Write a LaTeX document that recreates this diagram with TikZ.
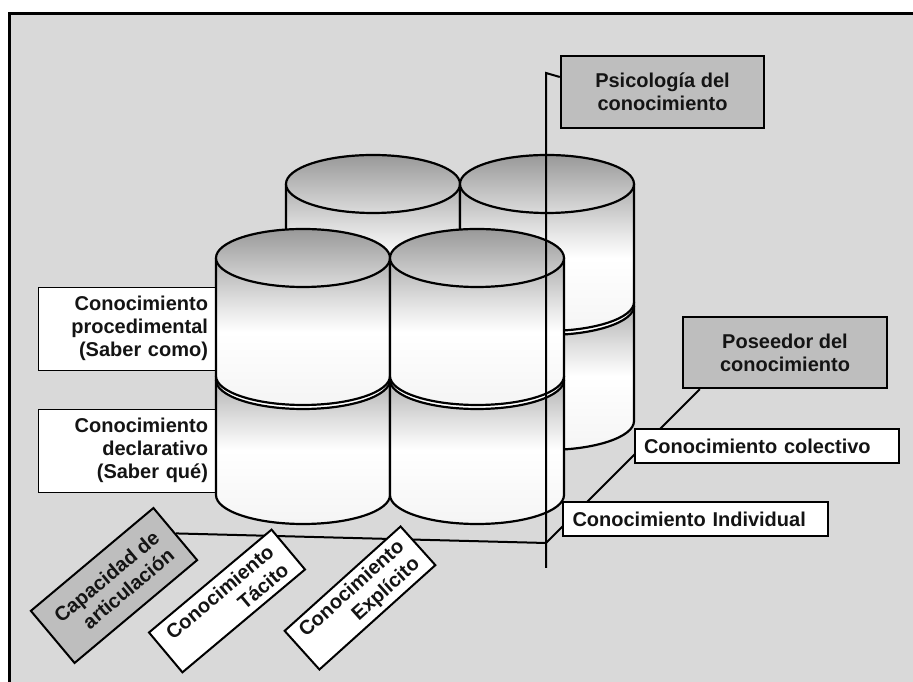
\documentclass[tikz,border=0pt]{standalone}
\usepackage{fontspec}
\setmainfont{Liberation Sans}
\usetikzlibrary{calc}

\definecolor{panel}{HTML}{D9D9D9}
\definecolor{tagfill}{HTML}{BEBEBE}

\pgfdeclarelayer{ground}
\pgfdeclarelayer{axes}
\pgfsetlayers{ground,axes,main}

% body of a drum tier: grey just under the rim, white in the middle
\pgfdeclareverticalshading{drumbody}{100bp}{%
  color(0bp)=(black!4); color(25bp)=(black!4); color(50bp)=(white);
  color(60bp)=(white!88!black); color(75bp)=(white!68!black);
  color(100bp)=(white!68!black)}

\tikzset{
  rim/.style={line width=2.2pt, line join=round},
  lid/.style={rim, top color=black!40, bottom color=black!14},
  txt/.style={font=\bfseries\fontsize{20}{23}\selectfont, text=black!92},
  darkbox/.style={txt, draw, line width=2.4pt, fill=tagfill, align=center,
    inner sep=0pt, minimum width=203pt, minimum height=72pt},
  sidebox/.style={txt, draw, line width=0.8pt, fill=white, text width=153pt,
    align=right, inner xsep=17pt, inner ysep=0pt, minimum height=83pt},
  barbox/.style={txt, draw, line width=2.2pt, fill=white, text width=246pt,
    align=left, inner xsep=9pt, inner ysep=0pt, minimum height=34pt},
  tiltbox/.style={txt, draw, line width=2pt, inner sep=0pt, align=right,
    minimum width=160pt, minimum height=52pt},
  axisline/.style={line width=2pt},
}

% two-tier drum: #1 = centre x, #2 = y of the lid centre
\newcommand\drum[2]{%
  % lower tier
  \shade[shading=drumbody] ({#1-87},{#2-118}) -- ({#1-87},{#2-237})
    arc[start angle=180, end angle=360, x radius=87, y radius=29]
    -- ({#1+87},{#2-118}) -- cycle;
  \fill[white] (#1,{#2-122}) ellipse[x radius=87, y radius=29];
  \draw[rim] ({#1-87},{#2-118}) -- ({#1-87},{#2-237})
    arc[start angle=180, end angle=360, x radius=87, y radius=29]
    -- ({#1+87},{#2-118});
  \draw[rim] ({#1-87},{#2-122})
    arc[start angle=180, end angle=360, x radius=87, y radius=29];
  % upper tier
  \shade[shading=drumbody] ({#1-87},#2) -- ({#1-87},{#2-118})
    arc[start angle=180, end angle=360, x radius=87, y radius=29]
    -- ({#1+87},#2) -- cycle;
  \draw[rim] ({#1-87},#2) -- ({#1-87},{#2-118})
    arc[start angle=180, end angle=360, x radius=87, y radius=29]
    -- ({#1+87},#2);
  % lid
  \shadedraw[lid] (#1,#2) ellipse[x radius=87, y radius=29];
}

\begin{document}
\begin{tikzpicture}[x=1pt, y=1pt]
\useasboundingbox (0,0) rectangle (913,682);

% panel with its frame
\begin{pgfonlayer}{ground}
  \fill[white] (0,0) rectangle (913,682);
  \fill[panel] (9,0) rectangle (913,669);
  \draw[line width=3pt] (9.5,0) -- (9.5,668.5) -- (913,668.5);
\end{pgfonlayer}

% tier labels, tucked under the front drums
\node[sidebox] (proc) at (131.5,353.5) {Conocimiento\\procedimental\\(Saber como)};
\node[sidebox] (decl) at (131.5,231.5) {Conocimiento\\declarativo\\(Saber qué)};

% drums: back row, then front row
\drum{373}{498}
\drum{547}{498}
\drum{303}{424}
\drum{477}{424}

% axis labels
\node[darkbox] (psico) at (662.5,590) {Psicología del\\conocimiento};
\node[darkbox, minimum width=204pt, minimum height=71pt] (poseedor) at (785,329.5)
  {Poseedor del\\conocimiento};
\node[barbox] (colectivo) at (767,236) {Conocimiento colectivo};
\node[barbox, minimum width=265pt] (individual) at (695.5,163) {Conocimiento Individual};
\node[tiltbox, fill=tagfill, minimum height=68pt, rotate=40] (capac) at (114,96.5)
  {Capacidad de\\articulación};
\node[tiltbox, fill=white, rotate=40] (tacito) at (227,81) {Conocimiento\\Tácito};
\node[tiltbox, fill=white, minimum width=156pt, rotate=42] (explicito) at (360,84)
  {Conocimiento\\Explícito};

% axes
\coordinate (origin) at (546,139);
\coordinate (vbottom) at (546,114);
\coordinate (vtop) at (546,609);
\coordinate (posfoot) at ($(poseedor.south west)+(18,0)$);

\begin{pgfonlayer}{axes}
  \draw[axisline] (capac.east) -- (origin);
  \draw[axisline] (origin) -- (posfoot);
\end{pgfonlayer}
\draw[axisline] (vbottom) -- (vtop) -- ($(psico.west)+(0,15)$);

\end{tikzpicture}
\end{document}
